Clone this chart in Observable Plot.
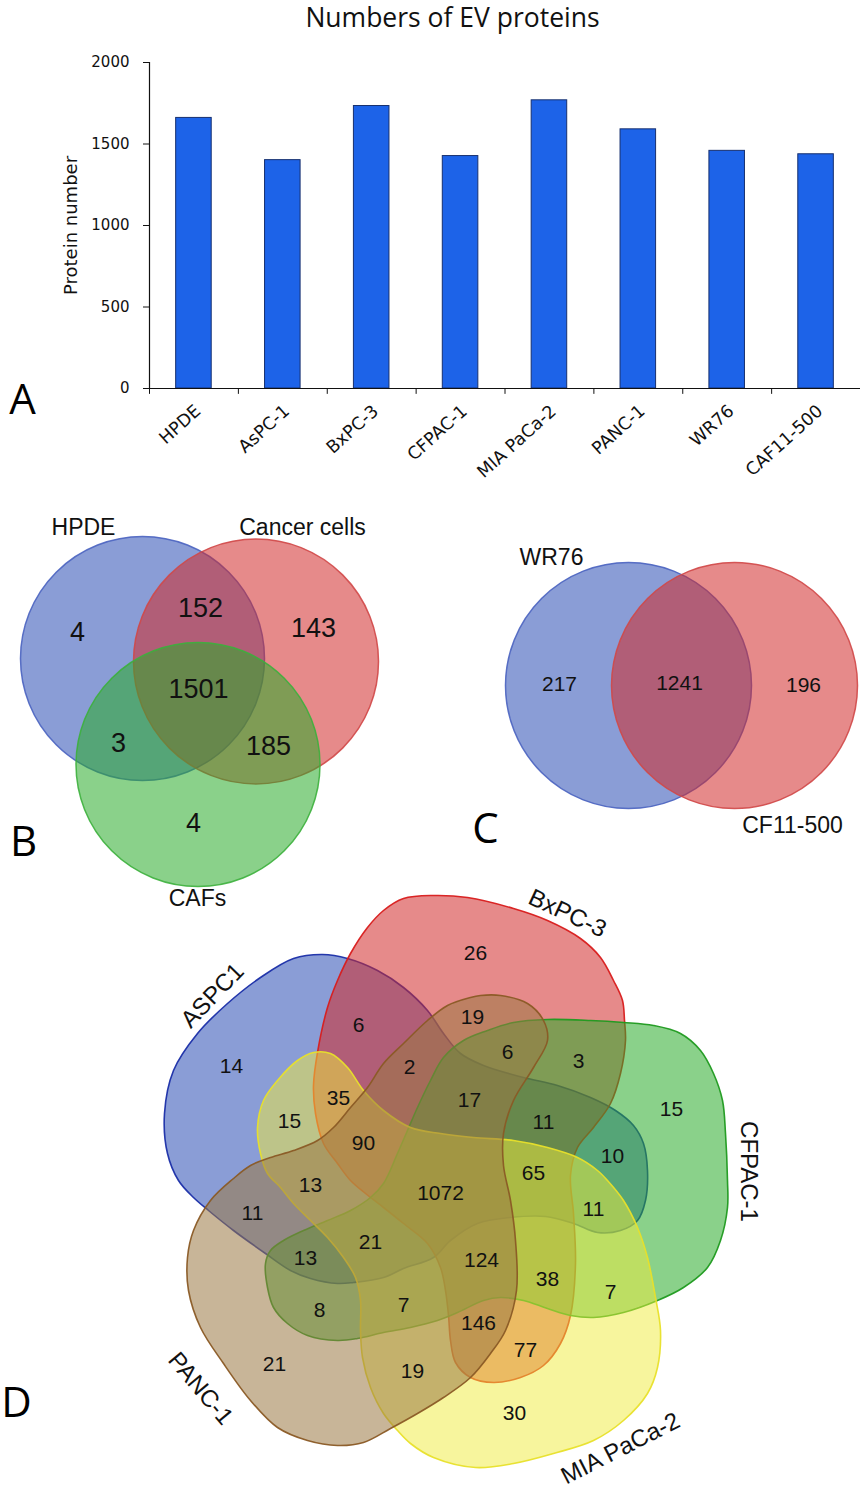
<!DOCTYPE html>
<html><head><meta charset="utf-8">
<script src="https://cdn.jsdelivr.net/npm/d3@7"></script>
<script src="https://cdn.jsdelivr.net/npm/@observablehq/plot@0.6"></script>
<style>
html,body{margin:0;padding:0;background:#fff;}
#page{position:relative;width:860px;height:1489px;overflow:hidden;background:#fff;}
#page svg{position:absolute;left:0;top:0;}
</style></head><body><div id="page"></div>
<script>
// ---------------- data ----------------
const categories = ["HPDE","AsPC-1","BxPC-3","CFPAC-1","MIA PaCa-2","PANC-1","WR76","CAF11-500"];
const proteinNumbers = [1660,1401,1733,1426,1768,1590,1458,1437];
const yTicks = [0,500,1000,1500,2000];
const chartTitle = "Numbers of EV proteins";
const yLabel = "Protein number";

const setsB = ["HPDE","Cancer cells","CAFs"];
const countsB = [4,152,143,1501,3,185,4];
const setsC = ["WR76","CF11-500"];
const countsC = [217,1241,196];
const setsD = ["ASPC1","BxPC-3","CFPAC-1","MIA PaCa-2","PANC-1"];
const countsD = [26,6,19,14,2,35,17,15,90,6,3,15,11,10,65,13,1072,11,21,13,124,7,8,146,21,19,11,38,7,77,30];
const panelLetters = ["A","B","C","D"];

// ---------------- layout (page pixels) ----------------
const letterPos = [[22,400],[23,842],[485,829],[16,1403]];
const circlesB = [[142,658,122],[255.5,661,122.5],[197.5,764,122]];
const labelPosB = [[83,527],[302,527],[197,898]];
const countPosB = [[77,632],[200,608],[313,628],[198,689],[118,743],[268,746],[193,823]];
const circlesC = [[628,685,123],[734,685,123]];
const labelPosC = [[551,557],[792,825]];
const countPosC = [[559,684],[679,683],[803,685]];
const labelPosD = [[212,995,-46],[567,913,25],[748,1171,90],[620,1448,-27],[200,1388,50]];
const countPosD = [[475,953],[358,1025],[472,1017],[231,1066],[409,1067],[338,1098],[469,1100],[289,1121],[363,1143],
  [507,1052],[578,1061],[671,1109],[543,1122],[612,1156],[533,1173],
  [310,1185],[440,1193],[252,1213],[370,1242],[305,1258],[481,1260],[403,1305],[319,1310],[478,1323],[274,1364],[412,1371],
  [593,1209],[547,1279],[610,1292],[525,1350],[514,1413]];
const outlinesD = [
  [[322,954],[347,958],[377,970],[403,987],[427,1010],[443,1033],[460,1053],[483,1065],[523,1077],[557,1085],[590,1097],[615,1110],[633,1125],[643,1143],[647,1170],[645,1200],[637,1220],[620,1230],[597,1232],[573,1223],[545,1216],[510,1217],[477,1223],[450,1240],[433,1257],[403,1268],[383,1277],[353,1282],[337,1283],[310,1278],[290,1270],[265,1253],[233,1230],[208,1210],[193,1197],[178,1180],[167,1153],[164,1113],[173,1070],[197,1033],[227,1003],[260,977],[293,958]],
  [[350,953],[367,927],[383,910],[403,898],[433,895],[467,897],[513,908],[547,920],[580,938],[600,957],[613,980],[622,1000],[624,1020],[625,1040],[620,1073],[610,1103],[593,1127],[577,1147],[570,1175],[573,1213],[575,1263],[570,1315],[560,1343],[543,1365],[520,1377],[493,1382],[470,1377],[455,1362],[450,1340],[448,1315],[445,1290],[440,1267],[427,1243],[403,1223],[383,1207],[365,1193],[350,1180],[337,1163],[323,1143],[315,1113],[313,1085],[317,1052],[327,1007],[337,980]],
  [[443,1057],[463,1040],[487,1030],[513,1022],[547,1019],[590,1020],[623,1022],[653,1025],[680,1033],[700,1050],[713,1073],[722,1100],[725,1133],[727,1180],[727,1207],[720,1240],[707,1267],[683,1287],[657,1300],[623,1312],[593,1317],[570,1315],[547,1308],[523,1300],[500,1297],[483,1300],[457,1312],[437,1320],[410,1327],[383,1332],[357,1338],[337,1340],[307,1335],[287,1323],[273,1307],[267,1287],[265,1263],[270,1250],[283,1240],[303,1230],[327,1220],[350,1210],[370,1197],[383,1183],[397,1153],[407,1130],[417,1107],[430,1080]],
  [[313,1052],[330,1053],[347,1067],[363,1090],[383,1110],[410,1127],[440,1133],[473,1137],[513,1140],[547,1147],[577,1157],[597,1170],[607,1180],[623,1200],[637,1227],[647,1257],[655,1297],[660,1330],[657,1367],[647,1393],[623,1420],[593,1440],[553,1453],[513,1463],[475,1467],[433,1457],[410,1443],[397,1430],[383,1413],[370,1387],[362,1357],[360,1330],[360,1300],[355,1277],[343,1257],[327,1237],[310,1220],[293,1203],[280,1187],[267,1173],[260,1153],[257,1127],[263,1100],[277,1080],[297,1060]],
  [[480,995],[500,995],[527,1003],[543,1020],[547,1040],[533,1067],[513,1100],[503,1133],[503,1165],[510,1200],[515,1240],[516,1290],[505,1330],[490,1353],[470,1377],[443,1397],[417,1413],[390,1428],[363,1442],[337,1445],[307,1440],[277,1427],[250,1400],[223,1363],[200,1327],[188,1290],[187,1257],[193,1230],[210,1200],[233,1178],[250,1165],[270,1157],[293,1150],[317,1140],[333,1127],[350,1107],[367,1087],[383,1063],[403,1043],[427,1020],[447,1005],[470,997]]
];

// ---------------- styles ----------------
const fillB = ["#2a4db4","#d22a2a","#2aab2a"];
const strokeB = ["#4a63c0","#d04848","#3cb03c"];
const fillC = ["#2a4db4","#d22a2a"];
const strokeC = ["#4a63c0","#d04848"];
const fillD = ["#2a4db4","#d22a2a","#2aab2a","#f0eb3c","#9b7844"];
const strokeD = ["#1a2ea8","#d81c1c","#1f9a1f","#e8e02a","#8a5a25"];
const opacD = [0.55,0.55,0.55,0.5,0.55];
const vennFont = "Liberation Sans, Arial, sans-serif";

const page = document.getElementById("page");

// ---------------- Panel A: bar chart ----------------
const rows = categories.map((name, i) => ({name, i, value: proteinNumbers[i]}));
const barPlot = Plot.plot({
  width: 860, height: 490,
  marginLeft: 149, marginRight: 0, marginTop: 62, marginBottom: 102,
  style: {background: "transparent", fontFamily: "DejaVu Sans, sans-serif", fontSize: "15px", color: "#111", overflow: "visible"},
  x: {type: "linear", domain: [0, categories.length], axis: null},
  y: {domain: [0, 2000], ticks: yTicks, tickSize: 6, tickPadding: 14, label: null, tickFormat: d => String(d)},
  marks: [
    Plot.rect(rows, {x1: d => d.i + 0.3, x2: d => d.i + 0.7, y1: 0, y2: "value", fill: "#1d63e8", stroke: "#17306f", strokeWidth: 1}),
    Plot.ruleX([0], {y1: 0, y2: 2000, stroke: "#111", strokeWidth: 1.2}),
    Plot.ruleY([0], {stroke: "#111", strokeWidth: 1.2}),
    Plot.ruleX(d3.range(categories.length + 1), {y1: 0, y2: -36, stroke: "#111"}),
    Plot.text(rows, {x: d => d.i + 0.5, y: 0, text: "name", rotate: -42, textAnchor: "end", dx: 4, dy: 20, fontSize: 17.5, fontFamily: "DejaVu Sans, sans-serif"}),
    Plot.text([yLabel], {frameAnchor: "left", textAnchor: "middle", rotate: -90, dx: -78, fontSize: 18, fontFamily: "DejaVu Sans, sans-serif"})
  ]
});
page.appendChild(barPlot);

// ---------------- Panels B, C, D and annotations ----------------
const pts = (arr) => arr.map(([x, y]) => ({x, y}));
const marks = [];

// title and panel letters
marks.push(Plot.text([{x: 452, y: 18, t: chartTitle}], {x: "x", y: "y", text: "t", fontSize: 26.5, fontFamily: "Open Sans, sans-serif", fill: "#111"}));
marks.push(Plot.text(panelLetters.map((t, i) => ({t, x: letterPos[i][0], y: letterPos[i][1]})), {x: "x", y: "y", text: "t", fontSize: 42, fontFamily: "Open Sans, sans-serif", fill: "#000"}));

// B
circlesB.forEach(([cx, cy, r], i) => {
  marks.push(Plot.dot([{x: cx, y: cy}], {x: "x", y: "y", r, fill: fillB[i], fillOpacity: 0.55, stroke: strokeB[i], strokeWidth: 1.5, strokeOpacity: 0.9}));
});
marks.push(Plot.text(setsB.map((t, i) => ({t, x: labelPosB[i][0], y: labelPosB[i][1]})), {x: "x", y: "y", text: "t", fontSize: 23, fontFamily: vennFont, fill: "#111"}));
marks.push(Plot.text(countsB.map((c, i) => ({t: String(c), x: countPosB[i][0], y: countPosB[i][1]})), {x: "x", y: "y", text: "t", fontSize: 27, fontFamily: vennFont, fill: "#111"}));

// C
circlesC.forEach(([cx, cy, r], i) => {
  marks.push(Plot.dot([{x: cx, y: cy}], {x: "x", y: "y", r, fill: fillC[i], fillOpacity: 0.55, stroke: strokeC[i], strokeWidth: 1.5, strokeOpacity: 0.9}));
});
marks.push(Plot.text(setsC.map((t, i) => ({t, x: labelPosC[i][0], y: labelPosC[i][1]})), {x: "x", y: "y", text: "t", fontSize: 23, fontFamily: vennFont, fill: "#111"}));
marks.push(Plot.text(countsC.map((c, i) => ({t: String(c), x: countPosC[i][0], y: countPosC[i][1]})), {x: "x", y: "y", text: "t", fontSize: 21, fontFamily: vennFont, fill: "#111"}));

// D
outlinesD.forEach((outline, i) => {
  marks.push(Plot.line(pts(outline), {x: "x", y: "y", curve: "catmull-rom-closed", fill: fillD[i], fillOpacity: opacD[i], stroke: strokeD[i], strokeWidth: 1.6, strokeOpacity: 0.95}));
});
marks.push(Plot.text(setsD.map((t, i) => ({t, x: labelPosD[i][0], y: labelPosD[i][1], a: labelPosD[i][2]})), {x: "x", y: "y", text: "t", rotate: "a", fontSize: 24, fontFamily: vennFont, fill: "#111"}));
marks.push(Plot.text(countsD.map((c, i) => ({t: String(c), x: countPosD[i][0], y: countPosD[i][1]})), {x: "x", y: "y", text: "t", fontSize: 21, fontFamily: vennFont, fill: "#111"}));

const overlay = Plot.plot({
  width: 860, height: 1489, margin: 0,
  style: {background: "transparent", overflow: "visible"},
  x: {type: "linear", domain: [0, 860], range: [0, 860], axis: null},
  y: {type: "linear", domain: [0, 1489], range: [0, 1489], axis: null},
  marks
});
page.appendChild(overlay);
</script></body></html>
